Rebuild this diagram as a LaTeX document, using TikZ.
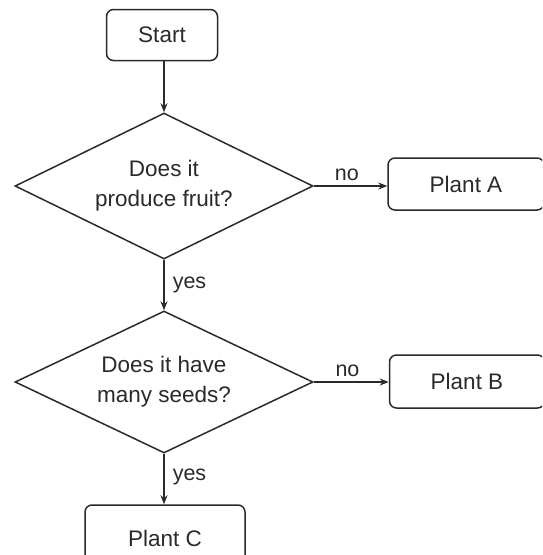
\documentclass[tikz,border=0pt]{standalone}
\usepackage{fontspec}
\setmainfont{Liberation Sans}
\usetikzlibrary{shapes.geometric,arrows.meta}
\definecolor{ink}{HTML}{2A2A2A}
\tikzset{
  box/.style={draw=ink, line width=1.5pt, rounded corners=7pt, text=ink, font=\fontsize{22.5}{30}\selectfont, inner sep=0pt},
  decision/.style={draw=ink, line width=1.5pt, diamond, aspect=2, inner sep=0pt, align=center, text=ink, font=\fontsize{22.5}{30}\selectfont},
  conn/.style={draw=ink, line width=1.5pt, -{Stealth[length=9pt,width=7pt]}},
  lbl/.style={text=ink, font=\fontsize{21.5}{24}\selectfont, inner sep=0pt}
}
\begin{document}
\begin{tikzpicture}[x=1pt,y=-1pt]
\useasboundingbox (0,0) rectangle (542,555);
\clip (0,0) rectangle (542,555);
\node[box, minimum width=111pt, minimum height=51pt] (start) at (162,35) {Start};
\node[decision, minimum width=298pt, minimum height=146pt] (d1) at (164,186) {Does it\\produce fruit?};
\node[box, minimum width=156pt, minimum height=52pt] (pa) at (466,184) {Plant A};
\node[decision, minimum width=298pt, minimum height=142pt] (d2) at (164,382) {Does it have\\many seeds?};
\node[box, minimum width=155pt, minimum height=53pt] (pb) at (467,381.5) {Plant B};
\node[box, minimum width=160pt, minimum height=66pt] (pc) at (165,538) {Plant C};
\draw[conn] (start.south -| d1.north) -- (d1.north);
\draw[conn] (d1.east) -- (pa.west |- d1.east) node[lbl, pos=0.45, above=5pt] {no};
\draw[conn] (d1.south) -- (d2.north) node[lbl, pos=0.5, right=8pt] {yes};
\draw[conn] (d2.east) -- (pb.west |- d2.east) node[lbl, pos=0.45, above=5pt] {no};
\draw[conn] (d2.south) -- (pc.north -| d2.south) node[lbl, pos=0.45, right=8pt] {yes};
\end{tikzpicture}
\end{document}
